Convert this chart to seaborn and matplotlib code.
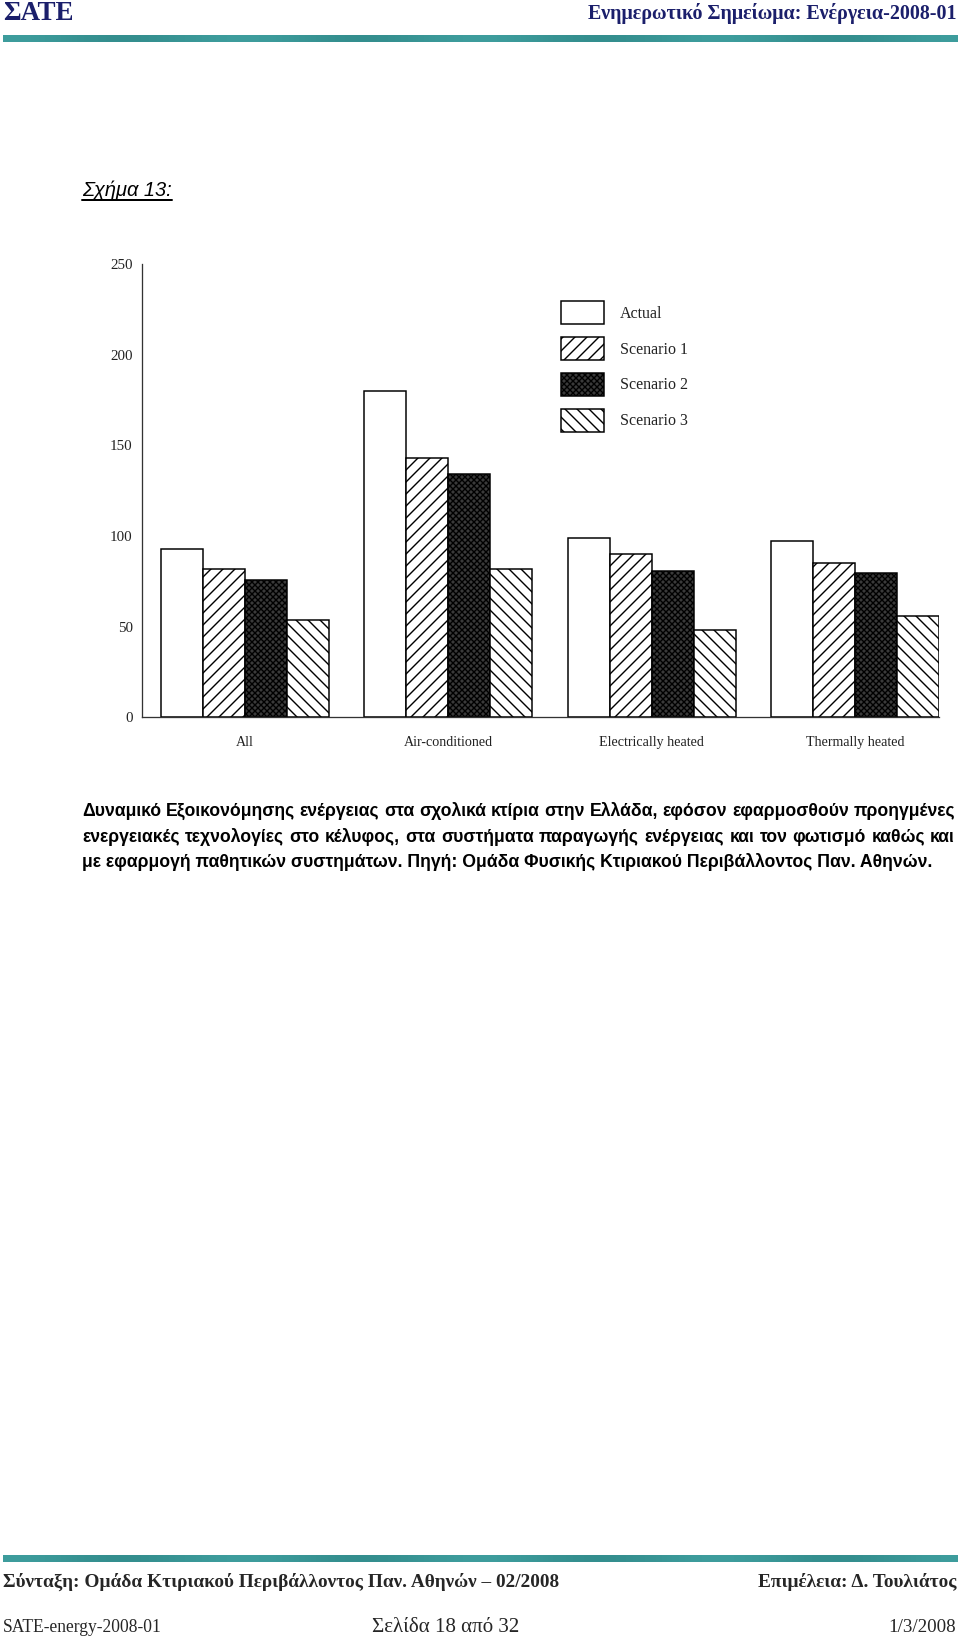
import numpy as np
import pandas as pd
import matplotlib
matplotlib.use("Agg")
import matplotlib.pyplot as plt
import matplotlib.patches as mpatches
from matplotlib.lines import Line2D
from matplotlib import font_manager as fm
import seaborn as sns

# ---------------- data ----------------
categories = ["All", "Air-conditioned", "Electrically heated", "Thermally heated"]
series = ["Actual", "Scenario 1", "Scenario 2", "Scenario 3"]
actual = [93, 180, 99, 97.5]
scenario1 = [82, 143, 90, 85]
scenario2 = [75.5, 134, 80.5, 79.5]
scenario3 = [53.5, 82, 48, 56]
y_ticks = [0, 50, 100, 150, 200, 250]

caption_lines = [
    "Δυναμικό Εξοικονόμησης ενέργειας στα σχολικά κτίρια στην Ελλάδα, εφόσον εφαρμοσθούν προηγμένες",
    "ενεργειακές τεχνολογίες στο κέλυφος, στα συστήματα παραγωγής ενέργειας και τον φωτισμό καθώς και",
    "με εφαρμογή παθητικών συστημάτων. Πηγή: Ομάδα Φυσικής Κτιριακού Περιβάλλοντος Παν. Αθηνών.",
]

values = [actual, scenario1, scenario2, scenario3]
rows = []
for s, vals in zip(series, values):
    for c, v in zip(categories, vals):
        rows.append({"category": c, "series": s, "value": v})
df = pd.DataFrame(rows)

# ---------------- style ----------------
sns.set_style("white")
plt.rcParams["font.family"] = ["Liberation Serif", "DejaVu Serif"]
plt.rcParams["hatch.linewidth"] = 1.4

W, H, DPI = 960, 1642, 72
fig = plt.figure(figsize=(W / DPI, H / DPI), dpi=DPI)
fig.patch.set_facecolor("white")


def fx(px):
    return px / W


def fy(py):
    return 1 - py / H


def has_font(name):
    try:
        fm.findfont(fm.FontProperties(family=name), fallback_to_default=False)
        return True
    except Exception:
        return False


narrow = "Liberation Sans Narrow" if has_font("Liberation Sans Narrow") else "Liberation Sans"

# ---------------- chart ----------------
ax_left, ax_right, ax_top, ax_bottom = 141.7, 939.3, 264.3, 717.3
ax = fig.add_axes([fx(ax_left), fy(ax_bottom), fx(ax_right - ax_left), (ax_bottom - ax_top) / H])

sns.barplot(data=df, x="category", y="value", hue="series", order=categories,
            hue_order=series, palette=["white"] * 4, saturation=1, width=0.826,
            edgecolor="black", linewidth=1.5, legend=False, ax=ax)

styles = [
    dict(facecolor="white", hatch=None),
    dict(facecolor="white", hatch="//"),
    dict(facecolor="#3a3a3a", hatch="xxxx"),
    dict(facecolor="white", hatch="\\\\"),
]
for cont, st in zip(ax.containers, styles):
    for bar in cont:
        bar.set_facecolor(st["facecolor"])
        bar.set_edgecolor("black")
        if st["hatch"]:
            bar.set_hatch(st["hatch"])

ax.set_xlim(-0.507, 3.413)
ax.set_ylim(0, 250)
ax.set_yticks(y_ticks)
ax.set_yticklabels([str(t) for t in y_ticks])
ax.set_xlabel("")
ax.set_ylabel("")
for side in ["top", "right"]:
    ax.spines[side].set_visible(False)
for side in ["left", "bottom"]:
    ax.spines[side].set_color("#333333")
    ax.spines[side].set_linewidth(1.3)
ax.tick_params(axis="y", direction="in", length=15, width=1.3, color="#333333",
               pad=9, labelsize=15, labelcolor="#222222")
ax.tick_params(axis="x", direction="out", length=13, width=1.3, color="#333333",
               pad=6, labelsize=14, labelcolor="#222222")
ax.set_facecolor("white")
ax.grid(False)

handles = [mpatches.Patch(facecolor=st["facecolor"], edgecolor="black",
                          hatch=st["hatch"], linewidth=1.5, label=s)
           for st, s in zip(styles, series)]
fs_leg = 16
ax.legend(handles=handles, loc="upper left", bbox_to_anchor=(fx(561), fy(301)),
          bbox_transform=fig.transFigure, frameon=False, borderpad=0, borderaxespad=0,
          handlelength=43 / fs_leg, handleheight=1.84, labelspacing=0.8,
          handletextpad=16 / fs_leg, fontsize=fs_leg, labelcolor="#222222")

# ---------------- page decorations ----------------
navy = "#1b1f6b"
fig.text(fx(3), fy(13), "ΣΑΤΕ", fontsize=27, fontweight="bold", color=navy,
         family=["Liberation Serif", "DejaVu Serif"], ha="left", va="center")
fig.text(fx(956), fy(13), "Ενημερωτικό Σημείωμα: Ενέργεια-2008-01", fontsize=20,
         fontweight="bold", color=navy, family=["Liberation Serif", "DejaVu Serif"],
         ha="right", va="center")

grad = np.linspace(0, 1, 400)
band = 0.55 + 0.25 * np.cos(grad * 2 * np.pi * 2.0) ** 2
cmap = matplotlib.colors.LinearSegmentedColormap.from_list("teal", ["#1f6f6f", "#45a8a8"])
for (y0, y1) in [(35, 42), (1555, 1562)]:
    bax = fig.add_axes([fx(3), fy(y1), fx(954), (y1 - y0) / H])
    bax.imshow(band[None, :], aspect="auto", cmap=cmap, vmin=0, vmax=1)
    bax.set_axis_off()

# Figure title (underlined italic)
renderer = fig.canvas.get_renderer()
t = fig.text(fx(82), fy(190), "Σχήμα 13:", fontsize=20, fontstyle="italic",
             family=["Liberation Sans", "DejaVu Sans"], color="black", ha="left", va="center")
bb = t.get_window_extent(renderer)
fig.add_artist(Line2D([bb.x0 / W, bb.x1 / W], [(bb.y0 - 0.5) / H, (bb.y0 - 0.5) / H],
                      transform=fig.transFigure, color="black", linewidth=2))

# Caption paragraph (justified)
cap_kw = dict(fontsize=17.6, fontweight="bold", family=[narrow, "DejaVu Sans"],
              color="black", va="center", ha="left")
cap_x0, cap_x1 = 82, 955
cap_y = [811, 837, 862]
for i, (line, yy) in enumerate(zip(caption_lines, cap_y)):
    if i < len(caption_lines) - 1:
        words = line.split(" ")
        objs = [fig.text(0, fy(yy), w_, **cap_kw) for w_ in words]
        widths = [o.get_window_extent(renderer).width for o in objs]
        gap = max((cap_x1 - cap_x0 - sum(widths)) / (len(words) - 1), 3)
        x = cap_x0
        for o, wd in zip(objs, widths):
            o.set_x(fx(x))
            x += wd + gap
    else:
        fig.text(fx(cap_x0), fy(yy), line, **cap_kw)

# Footer
serif = ["Liberation Serif", "DejaVu Serif"]
fig.text(fx(3), fy(1582), "Σύνταξη: Ομάδα Κτιριακού Περιβάλλοντος Παν. Αθηνών – 02/2008",
         fontsize=19.3, fontweight="bold", family=serif, ha="left", va="center")
fig.text(fx(956), fy(1582), "Επιμέλεια: Δ. Τουλιάτος", fontsize=19.3, fontweight="bold",
         family=serif, ha="right", va="center")
fig.text(fx(3), fy(1627), "SATE-energy-2008-01", fontsize=17.5, family=serif,
         ha="left", va="center")
fig.text(fx(372), fy(1627), "Σελίδα 18 από 32", fontsize=21, family=serif,
         ha="left", va="center")
fig.text(fx(956), fy(1627), "1/3/2008", fontsize=19, family=serif, ha="right", va="center")

fig.savefig("out.png", dpi=DPI, facecolor="white")
